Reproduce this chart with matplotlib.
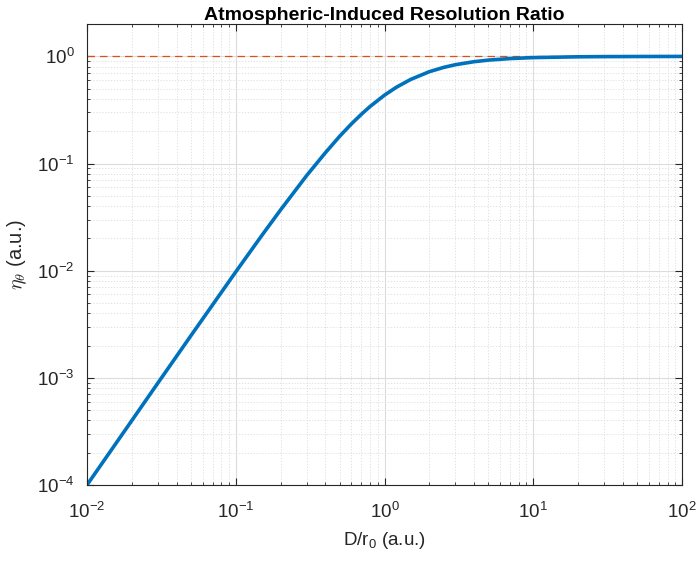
import matplotlib
matplotlib.use('Agg')
import matplotlib.pyplot as plt
from matplotlib.ticker import LogLocator, FixedLocator

# D/r0 and resolution ratio
d_r0 = [0.01, 0.02, 0.03, 0.05, 0.1, 0.15, 0.2, 0.3, 0.4, 0.5, 0.6, 0.7, 0.8,
        1.0, 1.2, 1.5, 2.0, 2.5, 3.0, 4.0, 5.0, 7.0, 10, 20, 30, 50, 100]
eta = [1.0e-4, 3.99e-4, 8.97e-4, 2.48e-3, 9.75e-3, 0.0214, 0.0369, 0.0774,
       0.126, 0.180, 0.235, 0.289, 0.341, 0.435, 0.515, 0.610, 0.720, 0.790,
       0.837, 0.893, 0.924, 0.955, 0.975, 0.992, 0.996, 0.998, 1.0]
ref_level = [1.0, 1.0]
ref_x = [0.01, 100]

x_ticks = [1e-2, 1e-1, 1e0, 1e1, 1e2]
x_labels = [r'$10^{-2}$', r'$10^{-1}$', r'$10^{0}$', r'$10^{1}$', r'$10^{2}$']
y_ticks = [1e-4, 1e-3, 1e-2, 1e-1, 1e0]
y_labels = [r'$10^{-4}$', r'$10^{-3}$', r'$10^{-2}$', r'$10^{-1}$', r'$10^{0}$']

plt.rcParams['font.family'] = ['Liberation Sans', 'DejaVu Sans']
plt.rcParams['mathtext.fontset'] = 'custom'
plt.rcParams['mathtext.rm'] = 'Liberation Sans'
plt.rcParams['mathtext.it'] = 'Liberation Sans:italic'

txt = '#262626'
fig = plt.figure(figsize=(6.97, 5.62), dpi=100)
ax = fig.add_axes([0.1248, 0.137, 0.8537, 0.820])

ax.loglog(ref_x, ref_level, '--', color=(0.85, 0.325, 0.098), lw=0.9, dashes=(6, 4))
ax.loglog(d_r0, eta, color=(0, 0.447, 0.741), lw=2.6)

ax.set_xlim(1e-2, 1e2)
ax.set_ylim(1e-4, 2)
ax.xaxis.set_major_locator(FixedLocator(x_ticks))
ax.set_xticklabels(x_labels)
ax.yaxis.set_major_locator(FixedLocator(y_ticks))
ax.set_yticklabels(y_labels)
ax.xaxis.set_minor_locator(LogLocator(base=10, subs=range(2, 10)))
ax.yaxis.set_minor_locator(LogLocator(base=10, subs=range(2, 10)))

ax.grid(True, which='major', color='#dcdcdc', lw=0.8)
ax.grid(True, which='minor', color='#dcdcdc', lw=0.6, ls=(0, (1.5, 2)))
ax.set_axisbelow(True)

ax.tick_params(which='both', direction='in', top=True, right=True,
               colors=txt, labelsize=13.5)
ax.tick_params(which='major', length=5)
ax.tick_params(which='minor', length=2.5)
ax.tick_params(axis='x', pad=12)
ax.tick_params(axis='y', pad=9)
for s in ax.spines.values():
    s.set_color(txt)
    s.set_linewidth(0.8)

ax.set_title('Atmospheric-Induced Resolution Ratio', fontsize=14,
             fontweight='bold', color='black', pad=3)
ax.set_xlabel(r'D/r$_0$ (a.u.)', fontsize=13.5, color=txt, labelpad=6)
ax.set_ylabel(r'$\eta_\theta$ (a.u.)', fontsize=14.5, color=txt, labelpad=6,
              math_fontfamily='cm')

fig.savefig('out.png', dpi=100)
